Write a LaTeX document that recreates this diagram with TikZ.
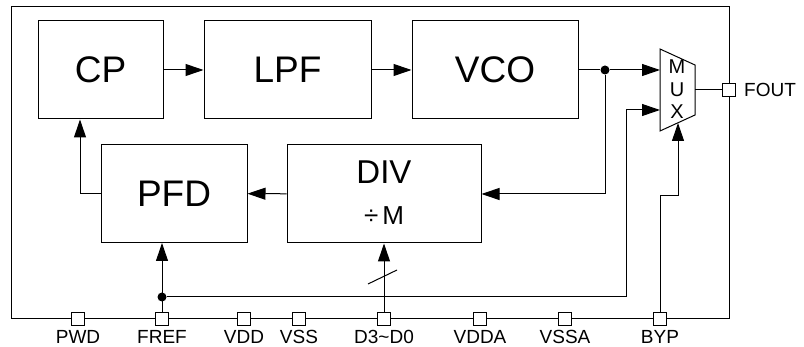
\documentclass[tikz,border=0pt]{standalone}
\usepackage{fontspec}
\setmainfont{Liberation Sans}
\usetikzlibrary{arrows.meta}

\tikzset{
  bloque/.style={draw, line width=1pt, minimum width=#1, minimum height=98pt,
    inner sep=0pt, font=\fontsize{37}{37}\selectfont},
  pin/.style={draw, fill=white, line width=1pt, minimum size=13pt, inner sep=0pt},
  etiq/.style={font=\fontsize{19}{19}\selectfont, inner sep=0pt},
  flecha/.style={-{Triangle[length=18pt,width=12pt]}, line width=1pt},
  linea/.style={line width=1pt},
  punto/.style={circle, fill, inner sep=0pt, minimum size=9pt},
}

\begin{document}
\begin{tikzpicture}[x=1pt, y=-1pt]
  % marco
  \useasboundingbox (0,0) rectangle (804,347);
  \draw[linea] (11,7) rectangle (729,319);

  %—————— bloques del lazo ——————————————————————————————————
  \node[bloque=125pt] (cp)  at (100.5,70) {CP};
  \node[bloque=167pt] (lpf) at (287.5,70) {LPF};
  \node[bloque=166pt] (vco) at (495,70)   {VCO};
  \node[bloque=146pt] (pfd) at (174,193.5) {PFD};
  \node[bloque=194pt] (div) at (384,194) {};
  \node[font=\fontsize{33}{33}\selectfont] (div-t) at (384,172) {DIV};
  \node[font=\fontsize{26}{26}\selectfont] (div-m) at (384,216) {÷\hspace{4pt}M};

  % multiplexor
  \coordinate (mA) at (660,49);
  \coordinate (mB) at (695,65);
  \coordinate (mC) at (695,115);
  \coordinate (mD) at (660,131);
  \draw[linea] (mA) -- (mB) -- (mC) -- (mD) -- cycle;
  \foreach \l/\y in {M/67, U/90, X/112}
    \node[font=\fontsize{20}{20}\selectfont] at (677,\y) {\l};

  %—————— pines ——————————————————————————————————————————————
  \foreach \n/\x/\t in {pwd/78/PWD, fref/162/FREF, vdd/244/VDD, vss/299/VSS,
      dsel/384/D3\textasciitilde D0, vdda/480/VDDA, vssa/565/VSSA, byp/660/BYP}
  {
    \node[pin] (\n) at (\x,319) {};
    \node[etiq] (\n-t) at (\x,336.5) {\t};
  }
  \node[pin] (fout) at (729,90) {};
  \node[etiq, anchor=west] (fout-t) at (744,90) {FOUT};

  %—————— conexiones ——————————————————————————————————————————
  \draw[flecha] (cp) -- (lpf);
  \draw[flecha] (lpf) -- (vco);
  \node[punto] (nvco) at (605,70) {};
  \draw[linea] (vco) -- (nvco);
  \draw[flecha] (nvco) -- (mA |- nvco);
  \draw[flecha] (nvco) |- (div);
  \draw[flecha] (div) -- (pfd);
  \draw[flecha] (pfd.west) -| (80,0 |- cp.south);
  % referencia
  \node[punto] (nref) at (162,297) {};
  \draw[flecha] (fref) -- (fref |- pfd.south);
  \draw[linea] (nref) -- (626,297) -- (626,110);
  \draw[flecha] (626,110) -- (660,110);
  % palabra de control
  \draw[flecha] (dsel) -- (div);
  \draw[linea] (368,284) -- (397,270);
  % bypass
  \draw[flecha] (byp) -- (660,196) -- (678,196) -- (678,123);
  % salida
  \draw[linea] (mB |- fout) -- (fout);
\end{tikzpicture}
\end{document}
